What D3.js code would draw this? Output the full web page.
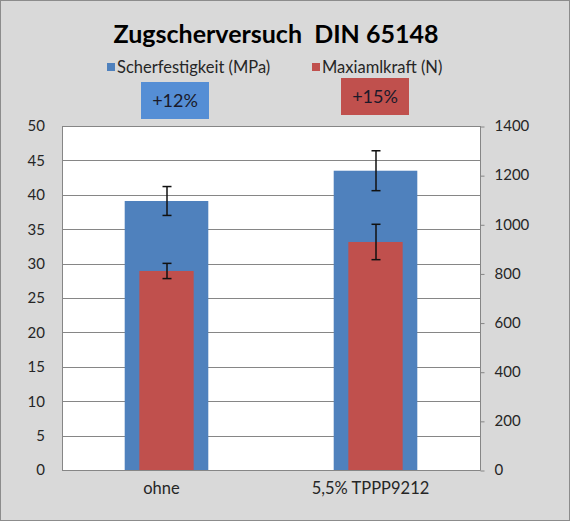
<!DOCTYPE html>
<html>
<head>
<meta charset="utf-8">
<script src="https://cdn.jsdelivr.net/npm/d3@7"></script>
<style>
html, body { margin: 0; padding: 0; background: #fff; }
svg { display: block; font-family: Lato, "Open Sans", sans-serif; }
</style>
</head>
<body>
<svg id="chart" width="570" height="521"></svg>
<script>
const categories = ["ohne", "5,5% TPPP9212"];
const scherfestigkeit = [39.1, 43.5];
const scherfestigkeitErr = [2.1, 2.9];
const maximalkraft = [810, 928];
const maximalkraftErr = [31, 72];
const leftTicks = [0, 5, 10, 15, 20, 25, 30, 35, 40, 45, 50];
const rightTicks = [0, 200, 400, 600, 800, 1000, 1200, 1400];
const seriesNames = ["Scherfestigkeit (MPa)", "Maxiamlkraft (N)"];
const annotations = ["+12%", "+15%"];
const title = "Zugscherversuch  DIN 65148";

const W = 570, H = 521;
const m = { left: 62, right: 480, top: 126, bottom: 470 };
const blue = "#4F81BD", red = "#C0504D";

const svg = d3.select("#chart");
svg.append("rect").attr("x", 0.5).attr("y", 0.5).attr("width", W - 1).attr("height", H - 1)
  .attr("fill", "#D9D9D9").attr("stroke", "#8C8C8C").attr("stroke-width", 1);

const x = d3.scaleBand().domain(categories).range([m.left, m.right]).padding(0);
const yL = d3.scaleLinear().domain([0, 50]).range([m.bottom, m.top]);
const yR = d3.scaleLinear().domain([0, 1400]).range([m.bottom, m.top]);

// plot area
svg.append("rect").attr("x", m.left).attr("y", m.top)
  .attr("width", m.right - m.left).attr("height", m.bottom - m.top).attr("fill", "#fff");

// gridlines
svg.append("g").selectAll("line").data(leftTicks.filter(d => d > 0)).join("line")
  .attr("x1", m.left).attr("x2", m.right)
  .attr("y1", d => Math.round(yL(d)) + 0.5).attr("y2", d => Math.round(yL(d)) + 0.5)
  .attr("stroke", "#868686").attr("stroke-width", 1);

// bars
const cx = d => x(d) + x.bandwidth() / 2;
const bwB = x.bandwidth() * 0.4, bwR = x.bandwidth() * 0.26;
svg.append("g").selectAll("rect").data(categories).join("rect")
  .attr("x", d => cx(d) - bwB / 2).attr("width", bwB)
  .attr("y", (d, i) => yL(scherfestigkeit[i]))
  .attr("height", (d, i) => yL(0) - yL(scherfestigkeit[i]))
  .attr("fill", blue);
svg.append("g").selectAll("rect").data(categories).join("rect")
  .attr("x", d => cx(d) - bwR / 2).attr("width", bwR)
  .attr("y", (d, i) => yR(maximalkraft[i]))
  .attr("height", (d, i) => yR(0) - yR(maximalkraft[i]))
  .attr("fill", red);

// error bars
function errBars(vals, errs, scale) {
  const g = svg.append("g").attr("stroke", "#111").attr("stroke-width", 1.5);
  categories.forEach((c, i) => {
    const xc = cx(c) + 0.5;
    const y1 = scale(vals[i] + errs[i]), y2 = scale(vals[i] - errs[i]);
    g.append("line").attr("x1", xc).attr("x2", xc).attr("y1", y1).attr("y2", y2);
    g.append("line").attr("x1", xc - 4.5).attr("x2", xc + 4.5).attr("y1", y1).attr("y2", y1);
    g.append("line").attr("x1", xc - 4.5).attr("x2", xc + 4.5).attr("y1", y2).attr("y2", y2);
  });
}
errBars(scherfestigkeit, scherfestigkeitErr, yL);
errBars(maximalkraft, maximalkraftErr, yR);

// axes lines
svg.append("line").attr("x1", m.left + 0.5).attr("x2", m.left + 0.5).attr("y1", m.top).attr("y2", m.bottom)
  .attr("stroke", "#868686");
svg.append("line").attr("x1", m.right + 0.5).attr("x2", m.right + 0.5).attr("y1", m.top).attr("y2", m.bottom + 0.5)
  .attr("stroke", "#868686");
svg.append("line").attr("x1", m.left).attr("x2", m.right + 0.5).attr("y1", m.bottom + 0.5).attr("y2", m.bottom + 0.5)
  .attr("stroke", "#868686");

// left axis
const axL = svg.append("g").attr("transform", `translate(${m.left},0)`)
  .call(d3.axisLeft(yL).tickValues(leftTicks).tickSize(0).tickPadding(17));
axL.select(".domain").remove();
axL.selectAll("text").attr("font-size", 15).attr("fill", "#262626").attr("font-family", "Lato, sans-serif");

// right axis
const axR = svg.append("g").attr("transform", `translate(${m.right + 0.5},0)`)
  .call(d3.axisRight(yR).tickValues(rightTicks).tickFormat(d3.format("d")).tickSize(4).tickPadding(10));
axR.select(".domain").remove();
axR.selectAll("line").attr("stroke", "#868686").attr("transform", "translate(0,0.5)");
axR.selectAll("text").attr("font-size", 15).attr("fill", "#262626").attr("font-family", "Lato, sans-serif");

// x labels
svg.append("g").selectAll("text").data(categories).join("text")
  .attr("x", d => cx(d) - 5).attr("y", 494)
  .attr("text-anchor", "middle").attr("font-size", 16.5).attr("fill", "#262626")
  .text(d => d);

// title
svg.append("text").attr("x", 276).attr("y", 43).attr("text-anchor", "middle")
  .attr("font-size", 25).attr("font-weight", "bold").attr("fill", "#000")
  .style("white-space", "pre").text(title);

// legend
const legend = [
  { name: seriesNames[0], color: blue, x: 107 },
  { name: seriesNames[1], color: red, x: 312 }
];
legend.forEach(l => {
  svg.append("rect").attr("x", l.x).attr("y", 63).attr("width", 8).attr("height", 8).attr("fill", l.color);
  svg.append("text").attr("x", l.x + 10).attr("y", 73).attr("font-size", 16.5).attr("fill", "#262626").text(l.name);
});

// annotation boxes
const boxes = [
  { text: annotations[0], fill: "#558ED5", x: 141, y: 82, w: 68, h: 37 },
  { text: annotations[1], fill: "#C0504D", x: 341, y: 78, w: 68, h: 37 }
];
boxes.forEach(b => {
  svg.append("rect").attr("x", b.x).attr("y", b.y).attr("width", b.w).attr("height", b.h).attr("fill", b.fill);
  svg.append("text").attr("x", b.x + b.w / 2).attr("y", b.y + b.h / 2 + 6)
    .attr("text-anchor", "middle").attr("font-size", 18).attr("fill", "#1a1a2a").text(b.text);
});
</script>
</body>
</html>
